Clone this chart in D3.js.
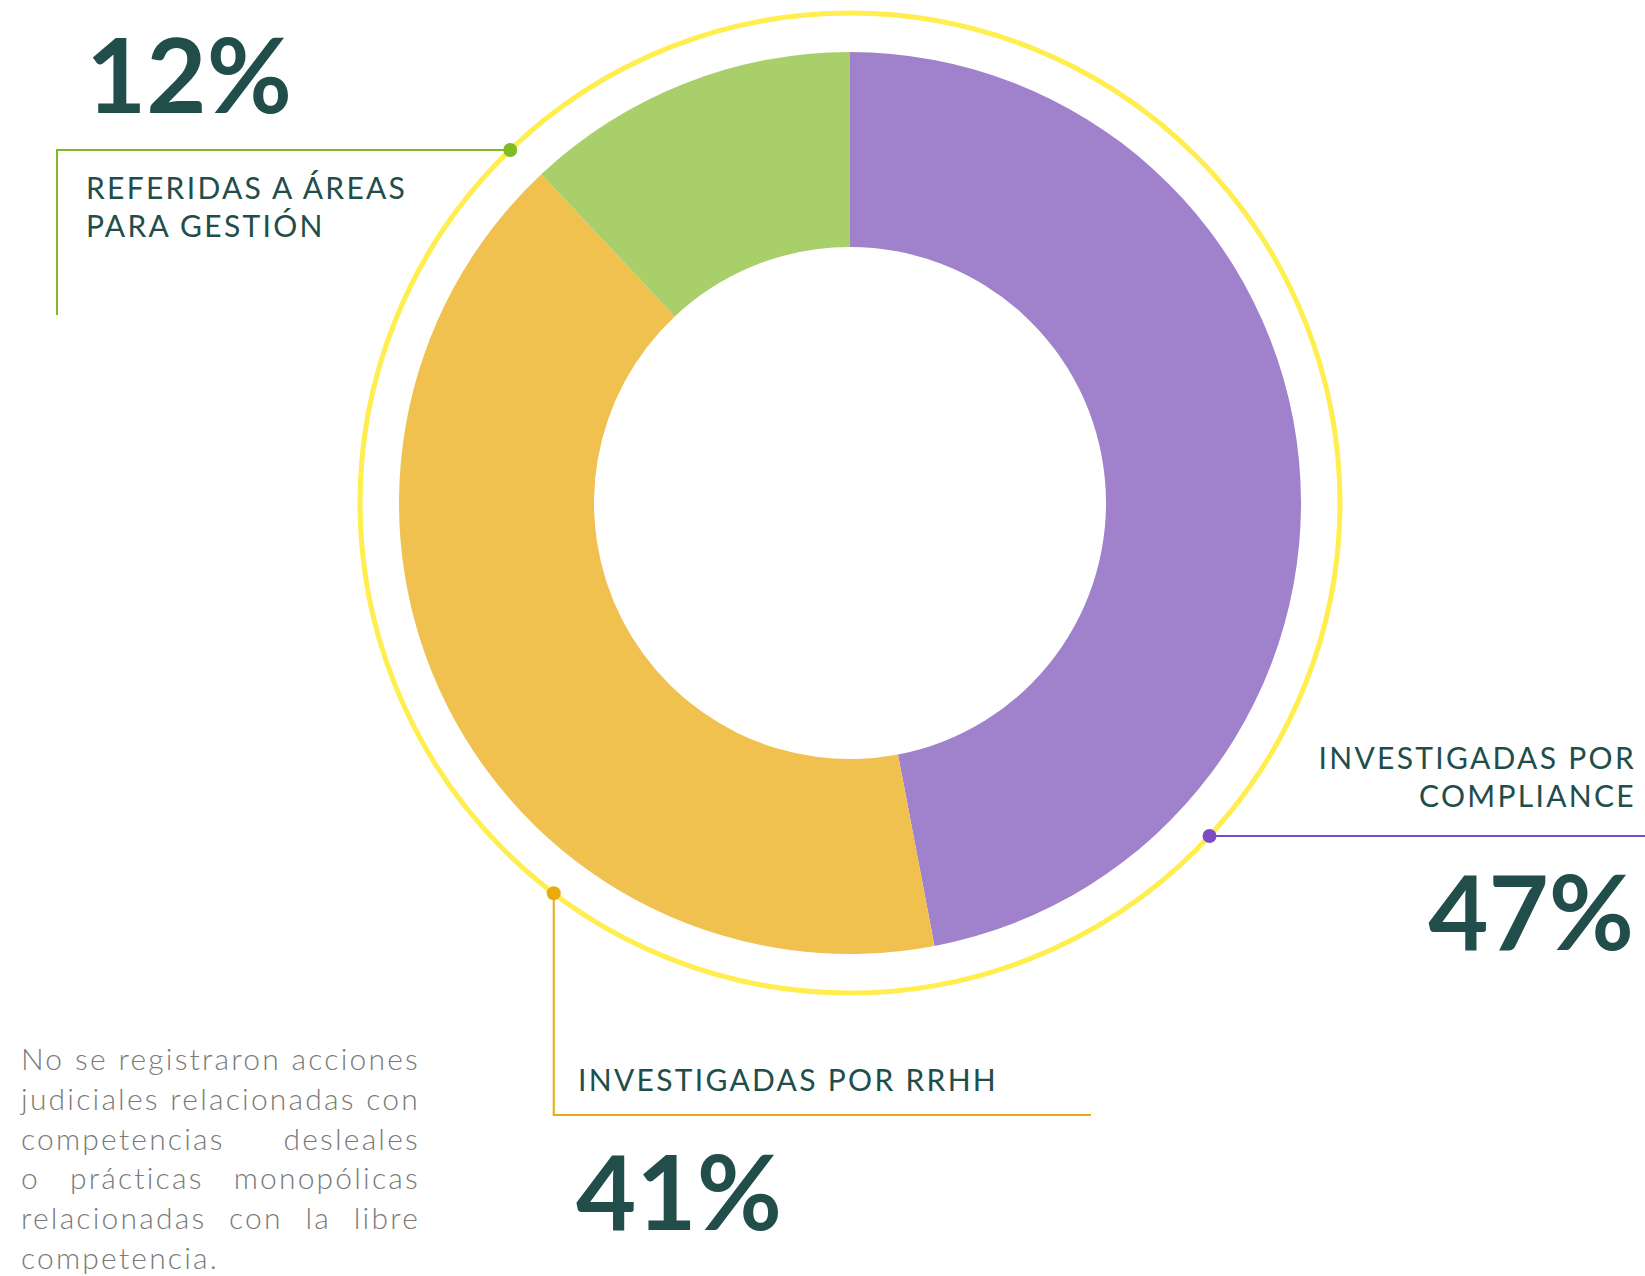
<!DOCTYPE html>
<html>
<head>
<meta charset="utf-8">
<script src="https://cdn.jsdelivr.net/npm/d3@7"></script>
<style>
  html, body { margin: 0; padding: 0; background: #fff; }
  svg { display: block; }
</style>
</head>
<body>
<svg id="chart" width="1645" height="1276"></svg>
<script>
// data
var categories = ["INVESTIGADAS POR COMPLIANCE", "INVESTIGADAS POR RRHH", "REFERIDAS A ÁREAS PARA GESTIÓN"];
var values = [47, 41, 12];
var sliceColors = ["#A081CC", "#F0C14E", "#A8CF6A"];
var markColors = ["#7B4DBE", "#E8AA0C", "#7DBC24"];
var labelLines = [["INVESTIGADAS POR", "COMPLIANCE"], ["INVESTIGADAS POR RRHH"], ["REFERIDAS A ÁREAS", "PARA GESTIÓN"]];
var noteLines = [
    "No se registraron acciones",
    "judiciales relacionadas con",
    "competencias desleales",
    "o prácticas monopólicas",
    "relacionadas con la libre",
    "competencia."
];

var svg = d3.select("#chart");
var cx = 850, cy = 503;
var outerR = 451, innerR = 256, ringR = 490;
var dark = "#214E4B";
var labelFont = "Lato, 'Open Sans', sans-serif";

var pie = d3.pie().sort(null).value(function(d) { return d; });
var arc = d3.arc().innerRadius(innerR).outerRadius(outerR);

var g = svg.append("g").attr("transform", "translate(" + cx + "," + cy + ")");

g.selectAll(".slice")
    .data(pie(values))
    .enter()
    .append("path")
    .attr("class", "slice")
    .attr("d", arc)
    .attr("fill", function(d, i) { return sliceColors[i]; });

// yellow ring around the donut
g.append("circle")
    .attr("r", ringR)
    .attr("fill", "none")
    .attr("stroke", "#FFEE4D")
    .attr("stroke-width", 5);

// where each callout leaves the ring (degrees clockwise from top)
var dotAngles = [132.8, 217.2, 316.1];
var ringPoint = function(deg) {
    var a = deg * Math.PI / 180;
    return [cx + ringR * Math.sin(a), cy - ringR * Math.cos(a)];
};

var p0 = ringPoint(dotAngles[0]);
var p1 = ringPoint(dotAngles[1]);
var p2 = ringPoint(dotAngles[2]);

// callout connector paths
var connectors = [
    "M" + p0[0] + "," + p0[1] + "H1645",
    "M" + p1[0] + "," + p1[1] + "V1115H1091",
    "M" + p2[0] + "," + p2[1] + "H57V315"
];

svg.selectAll(".connector")
    .data(connectors)
    .enter()
    .append("path")
    .attr("class", "connector")
    .attr("d", function(d) { return d; })
    .attr("fill", "none")
    .attr("stroke", function(d, i) { return markColors[i]; })
    .attr("stroke-width", 2);

svg.selectAll(".dot")
    .data([p0, p1, p2])
    .enter()
    .append("circle")
    .attr("class", "dot")
    .attr("cx", function(d) { return d[0]; })
    .attr("cy", function(d) { return d[1]; })
    .attr("r", 7)
    .attr("fill", function(d, i) { return markColors[i]; });

// labels
var labelPos = [
    { x: 1636, y: 769, anchor: "end" },
    { x: 578, y: 1091, anchor: "start" },
    { x: 86, y: 199, anchor: "start" }
];
var numberPos = [
    { x: 1634, y: 950, anchor: "end" },
    { x: 576, y: 1230, anchor: "start" },
    { x: 86, y: 113, anchor: "start" }
];

labelLines.forEach(function(lines, i) {
    var t = svg.append("text")
        .attr("x", labelPos[i].x)
        .attr("y", labelPos[i].y)
        .attr("text-anchor", labelPos[i].anchor)
        .attr("fill", dark)
        .style("font-family", labelFont)
        .style("font-size", "30px")
        .style("letter-spacing", "2.3px");
    lines.forEach(function(line, j) {
        t.append("tspan")
            .attr("x", labelPos[i].x)
            .attr("dy", j === 0 ? 0 : 38)
            .text(line);
    });
});

svg.selectAll(".pct")
    .data(values)
    .enter()
    .append("text")
    .attr("class", "pct")
    .attr("x", function(d, i) { return numberPos[i].x; })
    .attr("y", function(d, i) { return numberPos[i].y; })
    .attr("text-anchor", function(d, i) { return numberPos[i].anchor; })
    .attr("fill", dark)
    .style("font-family", labelFont)
    .style("font-weight", "bold")
    .style("font-size", "104px")
    .text(function(d) { return d + "%"; });

// justified note on the bottom left
var noteLeft = 21, noteRight = 420, noteTop = 1070, noteStep = 39.8;
var note = svg.append("g")
    .style("font-family", labelFont)
    .style("font-weight", "300")
    .style("font-size", "30px")
    .style("letter-spacing", "2.2px")
    .attr("fill", "#7A7A7A");

noteLines.forEach(function(line, i) {
    var words = line.split(" ");
    var y = noteTop + i * noteStep;
    if (i === noteLines.length - 1 || words.length === 1) {
        note.append("text").attr("x", noteLeft).attr("y", y).text(line);
        return;
    }
    var nodes = words.map(function(w) {
        return note.append("text").attr("y", y).text(w);
    });
    var widths = nodes.map(function(n) { return n.node().getComputedTextLength(); });
    var total = d3.sum(widths);
    var gap = (noteRight - noteLeft - total) / (words.length - 1);
    var x = noteLeft;
    nodes.forEach(function(n, k) {
        n.attr("x", x);
        x += widths[k] + gap;
    });
});
</script>
</body>
</html>
